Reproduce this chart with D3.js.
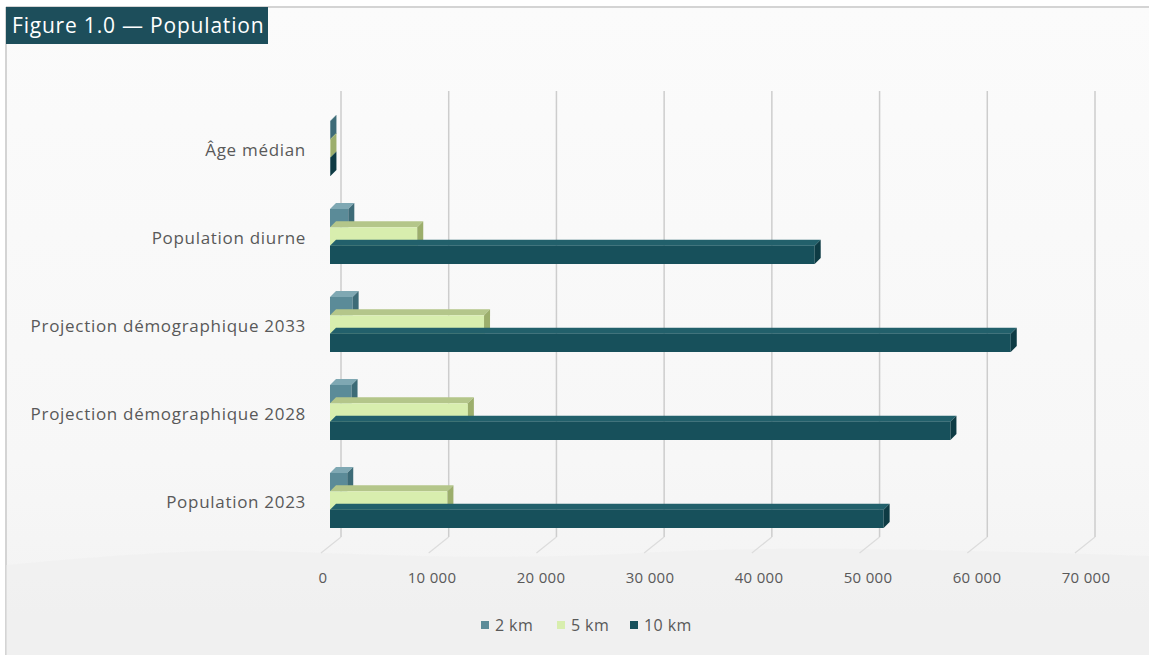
<!DOCTYPE html>
<html>
<head>
<meta charset="utf-8">
<script src="https://cdn.jsdelivr.net/npm/d3@7"></script>
<style>
  body { margin: 0; background: #fff; }
  svg { display: block; font-family: "Open Sans", Lato, sans-serif; }
</style>
</head>
<body>
<svg id="chart"></svg>
<script>
const categories = [
  "Âge médian",
  "Population diurne",
  "Projection démographique 2033",
  "Projection démographique 2028",
  "Population 2023",
];
const seriesNames = ["2 km", "5 km", "10 km"];
const values2km = [40, 1700, 2100, 2000, 1600];
const values5km = [42, 8100, 14300, 12800, 10900];
const values10km = [41, 45000, 63200, 57600, 51400];
const tickValues = [0, 10000, 20000, 30000, 40000, 50000, 60000, 70000];

const width = 1149;
const height = 655;
const depth = 6;

const svg = d3.select("#chart").attr("width", width).attr("height", height);

const fr = d3.formatLocale({ decimal: ",", thousands: "\u00a0", grouping: [3], currency: ["", " €"] });
const fmt = fr.format(",d");

// background
const defs = svg.append("defs");
const bg = defs.append("linearGradient").attr("id", "bg").attr("x1", 0).attr("y1", 0).attr("x2", 0).attr("y2", 1);
bg.append("stop").attr("offset", "0%").attr("stop-color", "#fbfbfb");
bg.append("stop").attr("offset", "70%").attr("stop-color", "#f7f7f7");
bg.append("stop").attr("offset", "100%").attr("stop-color", "#f2f2f2");

svg.append("rect").attr("width", width).attr("height", height).attr("fill", "#fff");
svg.append("rect").attr("x", 6).attr("y", 7).attr("width", width - 6).attr("height", height - 7).attr("fill", "url(#bg)");
svg.append("path")
  .attr("d", "M6,7H1149M6,7V655")
  .attr("stroke", "#d4d4d4").attr("stroke-width", 2).attr("fill", "none");

// faint hills
svg.append("path")
  .attr("d", "M6,565 C120,555 200,548 300,552 S520,560 640,553 S900,548 1149,556 V655 H6 Z")
  .attr("fill", "#ededed").attr("opacity", 0.45);

// scales
const x = d3.scaleLinear().domain([0, 70000]).range([330, 1084]);
const xLabel = d3.scaleLinear().domain([0, 70000]).range([323, 1086]);
const backOffset = 11;

const y0 = d3.scaleBand().domain(categories).range([106, 546]);
const y1 = d3.scaleBand().domain(seriesNames).range([15, 70]);

const colors = {
  "2 km": { front: "#5b8b98", top: "#7fa8b3", side: "#3d6b77" },
  "5 km": { front: "#d8eeae", top: "#b4c68a", side: "#9cae6c" },
  "10 km": { front: "#17505b", top: "#22606b", side: "#0e3b44" },
};

// gridlines on back wall + floor
const grid = svg.append("g");
tickValues.forEach((t) => {
  const bx = x(t) + backOffset;
  grid.append("line")
    .attr("x1", bx).attr("x2", bx).attr("y1", 91).attr("y2", 537)
    .attr("stroke", "#cdcdcd").attr("stroke-width", 1.5);
  grid.append("line")
    .attr("x1", bx).attr("x2", bx - 20).attr("y1", 537).attr("y2", 553)
    .attr("stroke", "#dcdcdc").attr("stroke-width", 1.2);
});

// bars
const rows = categories.map((c, i) => ({
  category: c,
  values: [
    { series: "2 km", value: values2km[i] },
    { series: "5 km", value: values5km[i] },
    { series: "10 km", value: values10km[i] },
  ],
}));

const barsG = svg.append("g");
rows.forEach((row) => {
  const g = barsG.append("g").attr("transform", `translate(0,${y0(row.category)})`);
  row.values.forEach((d) => {
    const c = colors[d.series];
    const x0 = x(0);
    const x1 = x(d.value);
    const yy = y1(d.series);
    const h = y1.bandwidth();
    g.append("polygon")
      .attr("points", [[x0, yy], [x1, yy], [x1 + depth, yy - depth], [x0 + depth, yy - depth]].join(" "))
      .attr("fill", c.top);
    g.append("rect")
      .attr("x", x0).attr("y", yy).attr("width", x1 - x0).attr("height", h)
      .attr("fill", c.front);
    g.append("polygon")
      .attr("points", [[x1, yy], [x1 + depth, yy - depth], [x1 + depth, yy + h - depth], [x1, yy + h]].join(" "))
      .attr("fill", c.side);
  });
});

// category labels
svg.append("g")
  .selectAll("text")
  .data(categories)
  .join("text")
  .attr("x", 306)
  .attr("y", (d) => y0(d) + y0.bandwidth() / 2)
  .attr("dy", "0.35em")
  .attr("text-anchor", "end")
  .attr("fill", "#595959")
  .attr("font-size", 17)
  .attr("letter-spacing", 0.7)
  .text((d) => d);

// x tick labels
svg.append("g")
  .selectAll("text")
  .data(tickValues)
  .join("text")
  .attr("x", (d) => xLabel(d))
  .attr("y", 578)
  .attr("dy", "0.35em")
  .attr("text-anchor", "middle")
  .attr("fill", "#595959")
  .attr("font-size", 15)
  .attr("letter-spacing", 0.3)
  .text((d) => fmt(d));

// legend
const legendX = [481, 557, 630];
const legend = svg.append("g");
seriesNames.forEach((s, i) => {
  legend.append("rect")
    .attr("x", legendX[i]).attr("y", 621).attr("width", 8).attr("height", 8)
    .attr("fill", colors[s].front);
  legend.append("text")
    .attr("x", legendX[i] + 14).attr("y", 625)
    .attr("dy", "0.35em")
    .attr("fill", "#595959")
    .attr("font-size", 16)
    .attr("letter-spacing", 0.4)
    .text(s);
});

// title
svg.append("rect").attr("x", 6).attr("y", 7).attr("width", 262).attr("height", 37).attr("fill", "#1d4e5b");
svg.append("text")
  .attr("x", 12).attr("y", 26).attr("dy", "0.35em")
  .attr("fill", "#ffffff").attr("font-size", 21).attr("letter-spacing", 0.8)
  .text("Figure 1.0 — Population");
</script>
</body>
</html>
